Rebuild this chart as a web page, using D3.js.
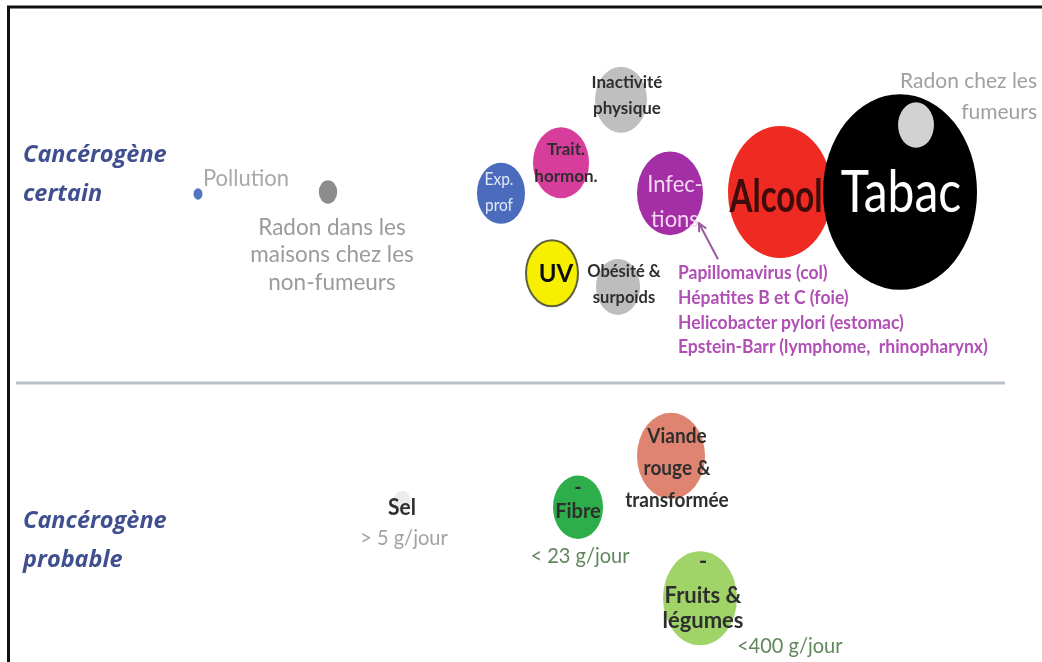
<!DOCTYPE html>
<html>
<head>
<meta charset="utf-8">
<script src="https://cdn.jsdelivr.net/npm/d3@7"></script>
<style>
    body { margin: 0; background: #fff; }
    svg { display: block; }
</style>
</head>
<body>
<svg class="cancerFactors"></svg>
<script>
// ---- data ----
const factors = ["Pollution", "Radon maisons", "Exp. prof", "Trait. hormon.", "Inactivité physique",
    "Infections", "UV", "Obésité", "Alcool", "Tabac", "Radon fumeurs",
    "Sel", "Fibre", "Viande", "Fruits"];
// position on the map (0-100 both ways) and bubble weight (0-100)
const posX   = [18.8, 31.8, 49.1, 55.1, 61.1, 66.0, 54.2, 60.8, 77.0, 89.0, 90.6, 39.2, 56.8, 66.1, 69.0];
const posY   = [28.3, 28.0, 28.2, 23.5, 13.8, 28.2, 40.5, 42.6, 28.0, 28.0, 17.7, 75.7, 76.5, 68.6, 90.5];
const weight = [0.33, 1.4, 9.5, 12.9, 11.1, 17.9, 11.1, 8.0, 44.4, 97.5, 5.3, 1.3, 10.3, 19.0, 22.5];

const labelLines = [
    ["Pollution"],
    ["Radon dans les", "maisons chez les", "non-fumeurs"],
    ["Exp.", "prof"],
    ["Trait.", "hormon."],
    ["Inactivité", "physique"],
    ["Infec-", "tions"],
    ["UV"],
    ["Obésité &", "surpoids"],
    ["Alcool"],
    ["Tabac"],
    ["Radon chez les", "fumeurs"],
    ["Sel"],
    ["-", "Fibre"],
    ["Viande", "rouge &", "transformée"],
    ["-", "Fruits &", "légumes"]
];
const subLabels = { "Sel": "> 5 g/jour", "Fibre": "< 23 g/jour", "Fruits": "<400 g/jour" };
const infectionDetails = ["Papillomavirus (col)", "Hépatites B et C (foie)",
    "Helicobacter pylori (estomac)", "Epstein-Barr (lymphome,  rhinopharynx)"];
const sections = [["Cancérogène", "certain"], ["Cancérogène", "probable"]];

// ---- styles ----
const width = 1042, height = 662;
const fills = {
    "Pollution": "#5174bf", "Radon maisons": "#8c8c8c", "Exp. prof": "#4b6cbd",
    "Trait. hormon.": "#d73c9b", "Inactivité physique": "#bfbfbf", "Infections": "#a32fa6",
    "UV": "#f6f000", "Obésité": "#bdbdbd", "Alcool": "#ee2a20", "Tabac": "#000",
    "Radon fumeurs": "#d2d2d2", "Sel": "#ececec", "Fibre": "#2fae4b",
    "Viande": "#de8470", "Fruits": "#a0d469"
};
const dark = "#2e2e2e";
const labelStyle = {
    "Pollution":           {anchor: "start",  dx: 5,  dys: [-8],           size: 22, weight: 400, color: "#a9a9a9"},
    "Radon maisons":       {anchor: "middle", dx: 4,  dys: [43, 70, 98],   size: 22.5, weight: 400, color: "#9b9b9b"},
    "Exp. prof":           {anchor: "middle", dx: -2, dys: [-8, 18],       size: 15.5, weight: 400, color: "#e4e8f6"},
    "Trait. hormon.":      {anchor: "middle", dx: 5,  dys: [-8, 19],       size: 17, weight: 700, color: dark},
    "Inactivité physique": {anchor: "middle", dx: 6,  dys: [-12, 14],      size: 17, weight: 700, color: dark},
    "Infections":          {anchor: "middle", dx: 5,  dys: [-1, 34],       size: 22, weight: 400, color: "#f4d6f1"},
    "UV":                  {anchor: "middle", dx: 4,  dys: [9],            size: 24, weight: 700, color: "#111"},
    "Obésité":             {anchor: "middle", dx: 6,  dys: [-10, 16],      size: 16.5, weight: 700, color: dark},
    "Alcool":              {anchor: "middle", dx: -4, dys: [20],           size: 33, weight: 700, color: "#3d0707", sy: 1.38},
    "Tabac":               {anchor: "middle", dx: 1,  dys: [20],           size: 48, weight: 400, color: "#fff", sy: 1.22},
    "Radon fumeurs":       {anchor: "end",    dx: 121, dys: [-37, -6],     size: 21, weight: 400, color: "#a0a0a0"},
    "Sel":                 {anchor: "middle", dx: 0,  dys: [13],           size: 21, weight: 700, color: dark,
                            sub: {anchor: "middle", dx: 2, dy: 43, color: "#a3a3a3"}},
    "Fibre":               {anchor: "middle", dx: 0,  dys: [-13, 11],      size: 20, weight: 700, color: dark,
                            sub: {anchor: "middle", dx: 2, dy: 56, color: "#62875f"}},
    "Viande":              {anchor: "middle", dx: 6,  dys: [-13, 19, 51],  size: 19, weight: 700, color: dark},
    "Fruits":              {anchor: "middle", dx: 3,  dys: [-29, 5, 30],   size: 22, weight: 700, color: dark,
                            sub: {anchor: "start", dx: 37, dy: 55, color: "#62875f"}}
};
const fontFamily = "Lato, 'Open Sans', sans-serif";
const aspect = 1.27; // bubbles are a little taller than wide

const svg = d3.select(".cancerFactors")
    .attr("width", width)
    .attr("height", height);

// the source picture is a soft scan, so everything gets a light blur
svg.append("defs").append("filter")
    .attr("id", "soft")
    .append("feGaussianBlur")
    .attr("stdDeviation", 0.5);

const chart = svg.append("g").attr("filter", "url(#soft)");

const x = d3.scaleLinear().domain([0, 100]).range([10, 1010]);
const y = d3.scaleLinear().domain([0, 100]).range([10, 660]);
const r = d3.scaleSqrt().domain([0, 100]).range([0, 78]);

// frame (left and top edges only)
svg.append("path")
    .attr("d", `M8.5,${height}V7H${width}`)
    .attr("fill", "none")
    .attr("stroke", "#111")
    .attr("stroke-width", 3);

// divider between the two groups
chart.append("line")
    .attr("x1", 16).attr("x2", 1005)
    .attr("y1", y(57.4)).attr("y2", y(57.4))
    .attr("stroke", "#bcc1c9")
    .attr("stroke-width", 3);

// section titles
const sectionY = [y(23.4), y(79.7)];
sections.forEach((lines, i) => {
    lines.forEach((t, j) => {
        chart.append("text")
            .attr("x", 23)
            .attr("y", sectionY[i] + j * 39)
            .style("font-family", "'Open Sans', sans-serif")
            .style("font-style", "italic")
            .style("font-weight", 700)
            .style("font-size", "23.5px")
            .style("fill", "#3f4f8f")
            .text(t);
    });
});

const data = factors.map((name, i) => ({
    name: name, x: posX[i], y: posY[i], w: weight[i], lines: labelLines[i]
}));

// bubbles
chart.selectAll("ellipse.bubble")
    .data(data)
    .enter()
    .append("ellipse")
        .attr("class", "bubble")
        .attr("cx", d => x(d.x))
        .attr("cy", d => y(d.y))
        .attr("rx", d => r(d.w))
        .attr("ry", d => r(d.w) * aspect)
        .attr("fill", d => fills[d.name])
        .attr("stroke", d => d.name === "UV" ? "#5e5e3a" : "none")
        .attr("stroke-width", 2);

// bubble labels
function drawText(x0, y0, t, st, color) {
    chart.append("text")
        .attr("transform", `translate(${x0},${y0}) scale(1,${st.sy || 1.05})`)
        .attr("text-anchor", st.anchor)
        .style("font-family", fontFamily)
        .style("font-size", st.size + "px")
        .style("font-weight", st.weight)
        .style("fill", color)
        .text(t);
}

data.forEach(d => {
    const st = labelStyle[d.name];
    const cx = x(d.x), cy = y(d.y);
    d.lines.forEach((t, i) => {
        drawText(cx + st.dx + (st.dxs ? st.dxs[i] : 0), cy + st.dys[i], t, st, st.color);
    });
    if (st.sub) {
        drawText(cx + st.sub.dx, cy + st.sub.dy, subLabels[d.name],
            {anchor: st.sub.anchor, size: 20, weight: 400}, st.sub.color);
    }
});

// infection details with arrow
const inf = data.find(d => d.name === "Infections");
const ix = x(inf.x), iy = y(inf.y);

svg.select("defs").append("marker")
    .attr("id", "arrowHead")
    .attr("viewBox", "0 0 10 10")
    .attr("refX", 9).attr("refY", 5)
    .attr("markerWidth", 5).attr("markerHeight", 5)
    .attr("orient", "auto")
    .append("path")
        .attr("d", "M1,1L9,5L1,9")
        .attr("fill", "none")
        .attr("stroke", "#9a5a9c")
        .attr("stroke-width", 2);

chart.append("line")
    .attr("x1", ix + 48).attr("y1", iy + 66)
    .attr("x2", ix + 29).attr("y2", iy + 30)
    .attr("stroke", "#9a5a9c")
    .attr("stroke-width", 2)
    .attr("marker-end", "url(#arrowHead)");

infectionDetails.forEach((t, i) => {
    chart.append("text")
        .attr("transform", `translate(${ix + 8},${iy + 86 + i * 24.7}) scale(1,1.05)`)
        .style("font-family", fontFamily)
        .style("font-size", "17.5px")
        .style("font-weight", 700)
        .style("fill", "#b04fb4")
        .style("white-space", "pre")
        .text(t);
});
</script>
</body>
</html>
